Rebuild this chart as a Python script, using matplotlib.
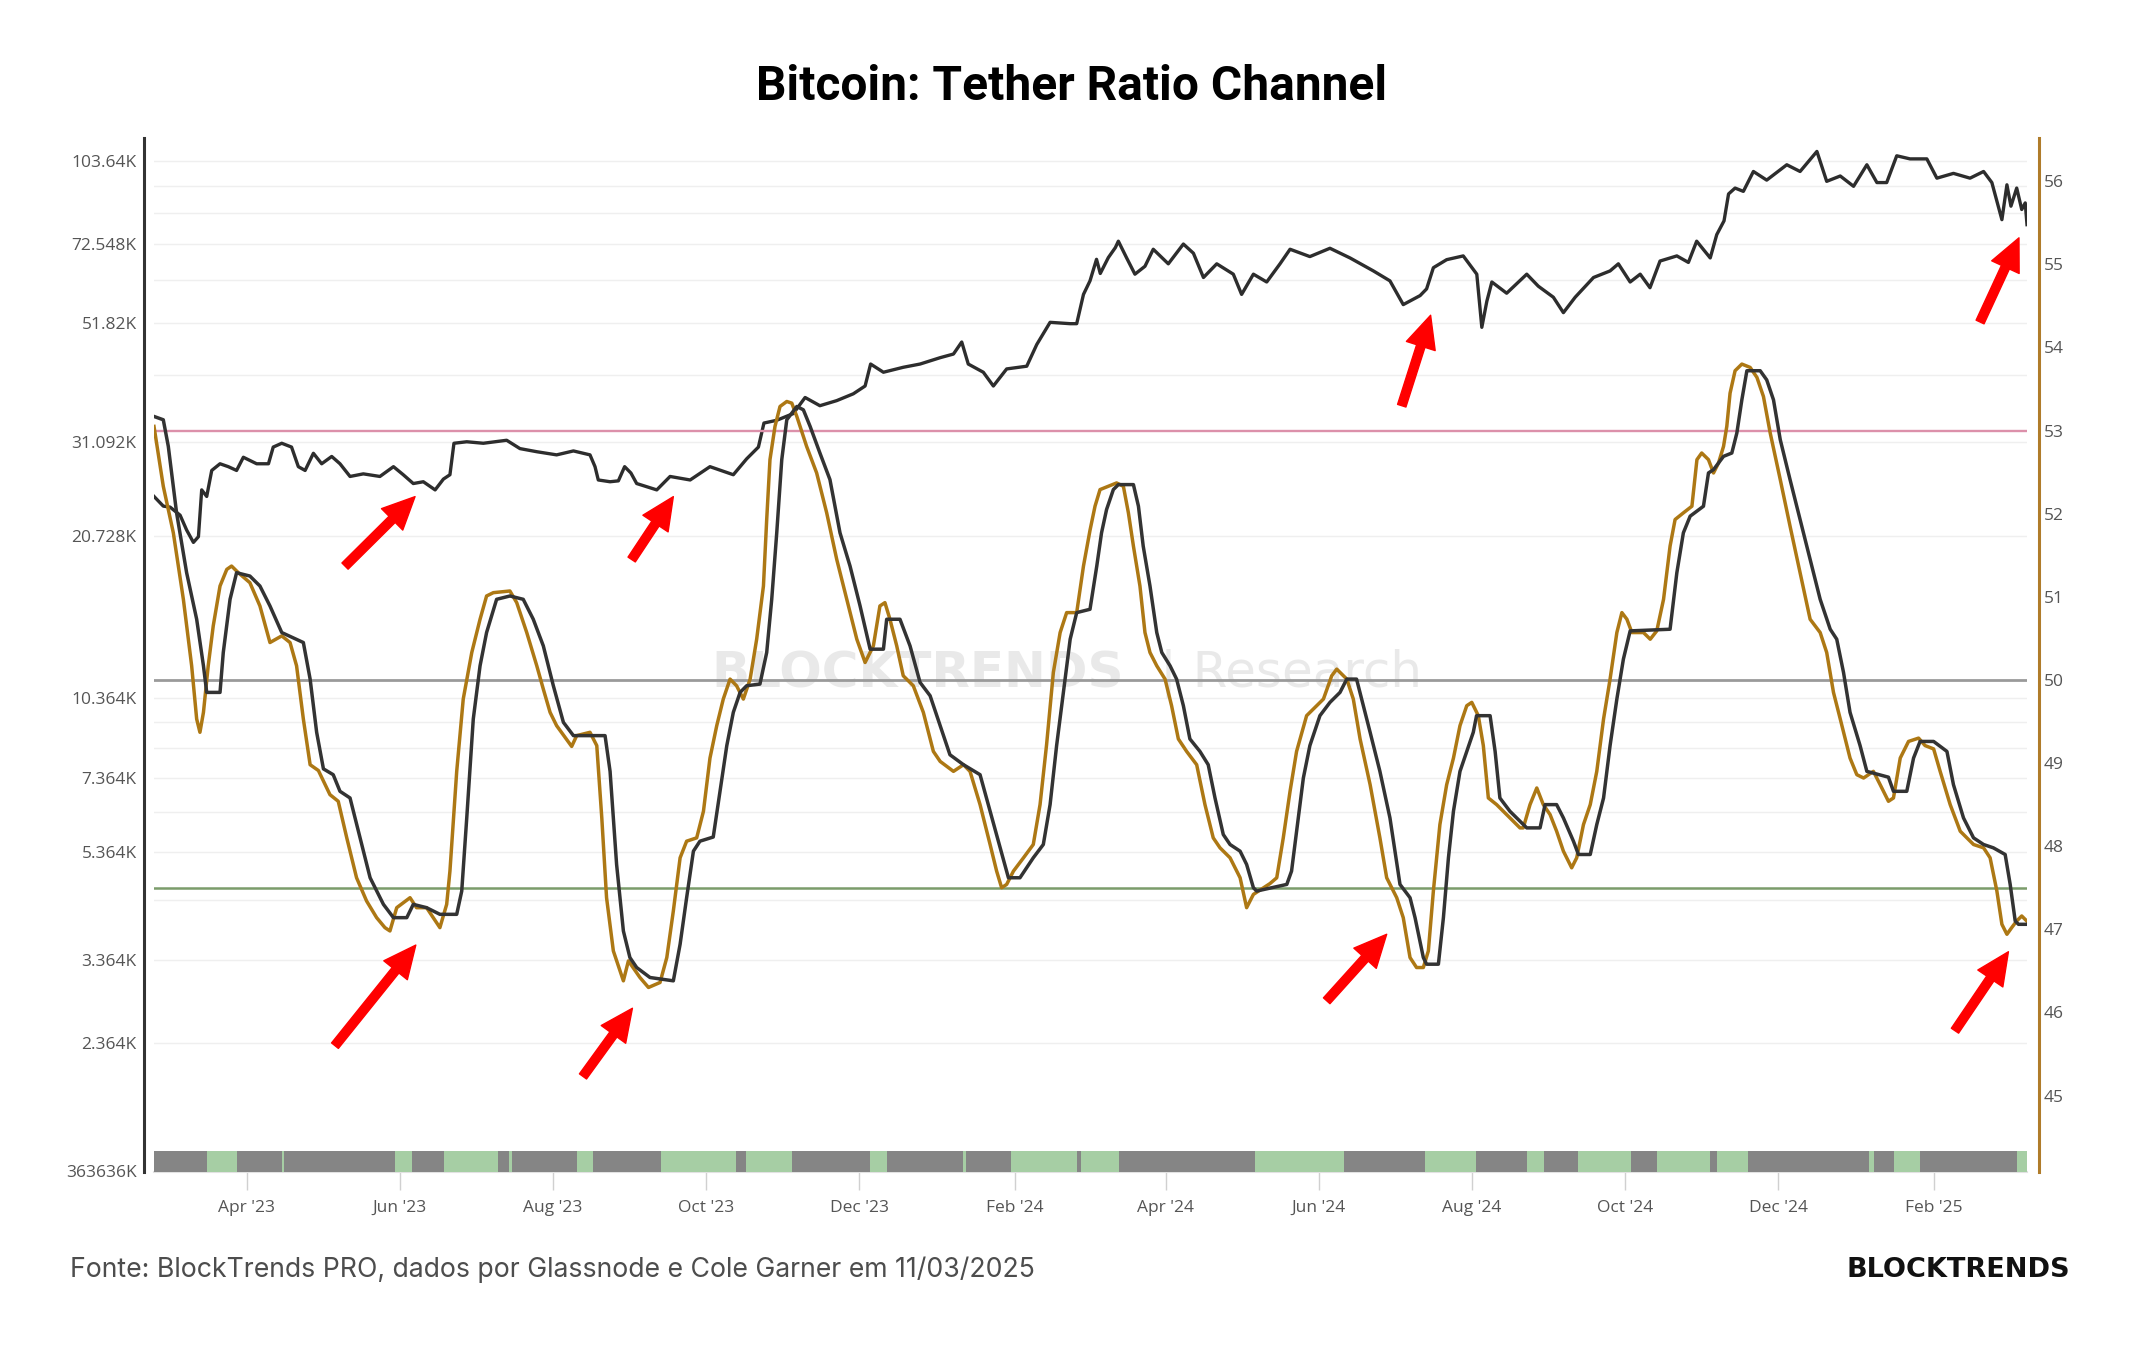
import numpy as np
import pandas as pd
import matplotlib
matplotlib.use("Agg")
import matplotlib.pyplot as plt
import matplotlib.dates as mdates

# ---------------- data ----------------
START = pd.Timestamp("2023-02-23")
END_DAY = 746.2

# BTC price (days since START, price in USD thousands)
btc_day = [0, 3.7, 6.4, 10.4, 13, 15.7, 17.7, 19, 21, 23, 26.3, 29.6, 32.9, 35.6, 40.9, 45.6,
           47.5, 50.9, 54.8, 57.5, 60.2, 63.5, 66.8, 70.8, 74.1, 78.1, 83.4, 90, 95.4, 99.3,
           103.3, 107.3, 112, 115.3, 117.9, 119.5, 124.6, 131.2, 140.5, 145.8, 152.5, 160.4,
           167.1, 173.7, 175.7, 177, 181.7, 185, 187.5, 190, 192.3, 200.3, 205.6, 213.6, 221.5,
           230.8, 236.1, 240.8, 243, 248.1, 254.7, 259.4, 265.3, 272, 278.6, 283.3, 285.5,
           290.6, 298.5, 305.2, 313.2, 318.5, 321.8, 324.4, 330.4, 334.4, 339.7, 347.7, 351.7,
           357, 365, 367.6, 370.3, 372.9, 375.5, 377.0, 380.2, 383.0, 384.2, 387.5, 390.8,
           394.8, 398.1, 404.1, 410.1, 414.1, 418.1, 423.4, 430, 433.3, 438, 443.3, 448.6,
           452.6, 460.5, 468.5, 476.5, 485.8, 492.4, 497.7, 504.4, 507, 509.7, 515, 521.6, 527,
           529, 531, 533, 538.9, 546.9, 551.5, 557.5, 561.5, 566.2, 573.5, 580.1, 583.4, 588.1,
           592.1, 596, 600, 606.7, 611.3, 614.6, 620, 622.6, 625.5, 627.3, 629.9, 633.2, 637.2,
           642.5, 650.5, 655.8, 662.5, 666.4, 671.8, 677.1, 682.4, 686.4, 690.3, 694.3, 699.6,
           706.3, 710.3, 716.9, 723.5, 728.9, 732.2, 734.2, 736.2, 738.2, 739.8, 742.1, 744.1,
           745.5, 746.2]
btc_price_k = [24.6, 23.6, 23.5, 22.7, 21.3, 20.2, 20.7, 25.3, 24.6, 27.5, 28.3, 27.95, 27.5, 29.1,
               28.3, 28.3, 30.4, 30.9, 30.4, 27.95, 27.5, 29.6, 28.3, 29.2, 28.3, 26.8, 27.1, 26.8,
               27.95, 27.0, 26.0, 26.2, 25.3, 26.5, 27.0, 30.9, 31.1, 30.9, 31.3, 30.2, 29.8, 29.4,
               29.9, 29.4, 27.95, 26.4, 26.2, 26.3, 27.95, 27.2, 26.0, 25.3, 26.8, 26.4, 27.95,
               27.0, 28.9, 30.4, 33.7, 34.1, 35.1, 37.6, 36.3, 37.1, 38.2, 39.5, 43.4, 41.9, 42.8,
               43.4, 44.6, 45.3, 47.7, 43.4, 41.9, 39.5, 42.5, 43.0, 47.2, 51.9, 51.6, 51.6, 58.5,
               62.0, 68.0, 64.0, 68.5, 71.5, 73.5, 68.4, 63.8, 66.0, 71.0, 66.7, 72.6, 69.8, 62.9,
               66.7, 63.8, 58.5, 63.8, 61.7, 66.7, 71.0, 68.8, 71.3, 68.4, 64.7, 62.0, 56.0, 58.2,
               59.9, 65.6, 67.9, 69.0, 63.8, 50.8, 56.8, 61.7, 58.8, 63.8, 60.6, 57.8, 54.1, 57.8,
               62.9, 64.7, 66.7, 61.7, 63.8, 60.2, 67.5, 69.0, 67.1, 73.5, 68.4, 75.6, 80.2, 90.0,
               92.3, 91.0, 99.1, 95.5, 102.0, 99.1, 108.0, 95.0, 97.2, 93.0, 102.0, 94.5, 94.5,
               106.0, 104.6, 104.6, 96.3, 98.3, 96.3, 99.1, 94.5, 87.2, 80.6, 93.6, 85.4, 92.3,
               84.2, 86.6, 78.9]

# Ratio channel, fast line (gold)
fast_day = [0, 3.7, 7.7, 11.7, 15, 17, 18.3, 19.7, 21.6, 23.6, 26.3, 29, 30.9, 33.6, 38.2, 42.2,
            46.2, 50.9, 54.2, 56.8, 59.5, 62.2, 65.5, 70.1, 73.4, 76.8, 80.7, 84.7, 88.7, 92, 94,
            96.7, 102, 104.6, 108.6, 113.9, 116.6, 117.9, 120.6, 123.2, 126.6, 129.9, 132.5,
            135.2, 141.8, 144.5, 148.5, 152.5, 155.1, 157.8, 160.4, 166.4, 168.4, 173.7, 176.4,
            178.4, 180.3, 183, 187, 189, 193.6, 197, 201.6, 204.3, 206.9, 209.6, 212.2, 216.2,
            218.9, 221.5, 224.2, 226.8, 229.5, 232.1, 234.8, 237.5, 240.1, 242.8, 244.1, 245.4,
            247.4, 249.4, 252.1, 254.1, 256.1, 260.0, 264.0, 268.0, 272.0, 276.0, 280.0, 283.3,
            286.6, 289.2, 291.2, 293.2, 295.9, 298.5, 302.5, 306.5, 310.5, 313.2, 318.5, 322.5,
            325.1, 329.1, 333.1, 335.7, 337.7, 339.7, 342.4, 346.4, 350.3, 353, 355.6, 358.3,
            361, 363.6, 367.6, 370.3, 372.9, 374.9, 376.9, 383.5, 386.2, 388.2, 390.2, 392.8,
            394.8, 396.8, 399.5, 402.8, 405.4, 408.1, 411.4, 415.4, 418.7, 422.0, 424.7, 428.7,
            432.7, 435.3, 438.0, 444.6, 447.3, 449.9, 452.6, 455.2, 459.2, 465.9, 469.2, 471.2,
            475.2, 477.8, 480.5, 484.5, 488.4, 491.1, 495.1, 497.7, 500.4, 503.0, 505.7, 507.7,
            509.7, 512.3, 515.0, 517.7, 520.3, 523.0, 525.0, 527.6, 529.6, 531.6, 534.9, 538.9,
            544.2, 545.5, 548.2, 550.9, 553.5, 556.2, 558.8, 561.5, 564.8, 566.8, 569.5, 572.2,
            574.8, 577.5, 580.1, 582.8, 584.8, 586.8, 588.8, 593.4, 596.1, 598.7, 601.4, 604.0,
            606.0, 609.3, 612.7, 614.7, 616.6, 619.3, 621.3, 623.3, 625.3, 626.6, 627.9, 629.9,
            632.6, 635.9, 638.6, 641.2, 643.9, 647.9, 651.8, 655.8, 659.8, 663.8, 666.4, 669.1,
            671.8, 675.7, 678.4, 681.1, 685.0, 687.7, 691.0, 693.0, 695.7, 699.0, 703.0, 705.6,
            709.0, 711.6, 715.6, 719.6, 724.9, 728.9, 731.5, 734.2, 736.2, 738.2, 740.1, 742.1,
            744.1, 746.1]
fast_val = [53.05, 52.33, 51.77, 50.97, 50.17, 49.53, 49.37, 49.61, 50.17, 50.65, 51.13, 51.33,
            51.37, 51.29, 51.17, 50.89, 50.45, 50.53, 50.45, 50.17, 49.53, 48.98, 48.91, 48.62,
            48.54, 48.10, 47.62, 47.34, 47.14, 47.02, 46.98, 47.26, 47.38, 47.26, 47.26, 47.02,
            47.30, 47.70, 48.90, 49.77, 50.33, 50.73, 51.01, 51.05, 51.07, 50.93, 50.57, 50.17,
            49.89, 49.61, 49.45, 49.20, 49.33, 49.37, 49.21, 48.34, 47.38, 46.74, 46.38, 46.62,
            46.42, 46.30, 46.36, 46.66, 47.22, 47.86, 48.06, 48.10, 48.42, 49.06, 49.45, 49.77,
            50.01, 49.93, 49.77, 50.01, 50.49, 51.13, 51.93, 52.65, 53.05, 53.29, 53.35, 53.33,
            53.17, 52.81, 52.49, 52.01, 51.45, 50.97, 50.49, 50.21, 50.41, 50.89, 50.93, 50.73,
            50.41, 50.05, 49.93, 49.61, 49.14, 49.02, 48.90, 48.98, 48.90, 48.50, 48.02, 47.70,
            47.50, 47.54, 47.70, 47.86, 48.02, 48.50, 49.22, 50.09, 50.57, 50.81, 50.81, 51.37,
            51.80, 52.09, 52.29, 52.37, 52.33, 52.01, 51.61, 51.13, 50.57, 50.33, 50.17, 50.01,
            49.69, 49.29, 49.14, 48.98, 48.50, 48.10, 47.98, 47.86, 47.62, 47.26, 47.42, 47.55,
            47.62, 48.10, 48.66, 49.14, 49.57, 49.77, 50.05, 50.13, 50.01, 49.77, 49.29, 48.74,
            48.10, 47.62, 47.38, 47.14, 46.66, 46.54, 46.54, 46.74, 47.46, 48.26, 48.74, 49.06,
            49.45, 49.69, 49.73, 49.57, 49.21, 48.58, 48.50, 48.38, 48.22, 48.22, 48.50, 48.70,
            48.50, 48.38, 48.18, 47.94, 47.74, 47.86, 48.26, 48.50, 48.90, 49.53, 50.01, 50.57,
            50.81, 50.73, 50.57, 50.57, 50.49, 50.59, 50.97, 51.61, 51.93, 52.01, 52.09, 52.65,
            52.73, 52.65, 52.49, 52.61, 52.81, 53.05, 53.45, 53.72, 53.80, 53.76, 53.64, 53.41,
            52.97, 52.41, 51.85, 51.29, 50.73, 50.57, 50.33, 49.85, 49.53, 49.06, 48.86, 48.82,
            48.90, 48.74, 48.54, 48.58, 49.06, 49.26, 49.30, 49.21, 49.17, 48.90, 48.50, 48.18,
            48.02, 47.98, 47.86, 47.46, 47.06, 46.94, 47.02, 47.10, 47.16, 47.10]

# Ratio channel, slow line (dark)
slow_day = [0, 3.7, 5.7, 9, 13, 17, 19.7, 21, 26.3, 27.6, 30.3, 32.9, 38.2, 42.2, 46.2, 50.9,
            59.5, 62.2, 64.8, 67.5, 71.4, 74.1, 78.1, 82.1, 86.1, 91.4, 95.4, 100.7, 103.3,
            108.6, 113.9, 120.6, 122.6, 124.6, 127.2, 129.9, 132.5, 136.5, 141.8, 147.1, 151.1,
            155.1, 159.1, 163.1, 167.1, 179.7, 181.7, 184.3, 187, 189.6, 192.3, 197.6, 206.9,
            209.6, 212.2, 214.9, 217.5, 222.8, 225.5, 228.2, 230.8, 233.5, 236.1, 241.4, 244.1,
            246.1, 248.1, 250.1, 252.1, 256.1, 258.7, 261.4, 265.3, 269.3, 273.3, 277.3, 281.3,
            285.3, 290.6, 291.9, 297.2, 301.2, 305.2, 309.2, 313.2, 317.1, 322.5, 329.1, 333.1,
            337.1, 340.4, 345.0, 350.3, 354.3, 357, 359.6, 362.3, 365, 367.6, 372.9, 375.6,
            377.5, 379.5, 382.2, 384.2, 390.2, 392.2, 394.1, 396.8, 399.5, 401.5, 404.8, 407.4,
            410.1, 412.7, 416.7, 420.0, 422.7, 426.0, 428.7, 432.7, 435.3, 438.0, 439.3, 451.3,
            453.2, 455.2, 457.9, 460.5, 464.5, 468.5, 472.5, 475.2, 479.1, 481.8, 484.5, 488.4,
            492.4, 496.4, 500.4, 502.4, 505.7, 507.0, 511.7, 513.7, 515.7, 517.7, 520.3, 523.0,
            525.6, 526.9, 532.3, 534.3, 536.2, 540.2, 544.2, 546.9, 552.2, 554.2, 558.8, 561.5,
            565.5, 567.5, 572.2, 574.8, 577.5, 580.1, 582.8, 585.4, 588.1, 604.0, 606.7, 609.3,
            612.0, 617.3, 619.3, 621.3, 625.3, 628.6, 630.6, 632.6, 634.6, 639.9, 642.5, 645.2,
            647.9, 651.8, 655.8, 659.8, 663.8, 667.8, 670.4, 673.1, 675.7, 679.7, 682.4, 691.0,
            693.0, 698.3, 701.0, 703.6, 709.0, 714.3, 716.9, 720.9, 724.9, 728.9, 732.8, 737.5,
            739.5, 741.5, 742.8, 746.1]
slow_val = [53.17, 53.13, 52.81, 52.01, 51.29, 50.73, 50.17, 49.85, 49.85, 50.33, 50.97, 51.29,
            51.25, 51.13, 50.89, 50.57, 50.45, 50.01, 49.37, 48.93, 48.86, 48.66, 48.58, 48.10,
            47.62, 47.30, 47.14, 47.14, 47.30, 47.26, 47.18, 47.18, 47.46, 48.34, 49.53, 50.17,
            50.57, 50.97, 51.01, 50.97, 50.73, 50.41, 49.93, 49.49, 49.33, 49.33, 48.90, 47.78,
            46.98, 46.66, 46.54, 46.42, 46.38, 46.82, 47.38, 47.94, 48.06, 48.11, 48.66, 49.21,
            49.61, 49.85, 49.93, 49.95, 50.33, 50.97, 51.77, 52.65, 53.13, 53.29, 53.25, 53.05,
            52.73, 52.41, 51.77, 51.37, 50.89, 50.37, 50.37, 50.73, 50.73, 50.41, 49.97, 49.81,
            49.45, 49.10, 48.98, 48.86, 48.42, 47.98, 47.62, 47.62, 47.86, 48.02, 48.50, 49.21,
            49.85, 50.49, 50.81, 50.85, 51.37, 51.77, 52.05, 52.29, 52.35, 52.35, 52.09, 51.61,
            51.13, 50.57, 50.33, 50.17, 50.01, 49.69, 49.29, 49.14, 48.98, 48.58, 48.14, 48.02,
            47.94, 47.78, 47.50, 47.46, 47.54, 47.70, 48.18, 48.82, 49.21, 49.57, 49.73, 49.85,
            50.01, 50.01, 49.69, 49.37, 48.90, 48.34, 47.54, 47.38, 47.14, 46.66, 46.58, 46.58,
            47.14, 47.86, 48.42, 48.90, 49.14, 49.37, 49.57, 49.57, 49.14, 48.58, 48.42, 48.30,
            48.22, 48.22, 48.50, 48.50, 48.34, 48.06, 47.90, 47.90, 48.26, 48.58, 49.21, 49.77,
            50.25, 50.59, 50.61, 51.29, 51.77, 51.97, 52.09, 52.49, 52.53, 52.69, 52.73, 52.97,
            53.37, 53.72, 53.72, 53.61, 53.37, 52.89, 52.41, 51.93, 51.45, 50.97, 50.61, 50.49,
            50.09, 49.61, 49.21, 48.90, 48.83, 48.66, 48.66, 49.06, 49.26, 49.26, 49.14, 48.74,
            48.34, 48.10, 48.02, 47.98, 47.90, 47.54, 47.10, 47.06, 47.06]

# Channel levels
level_top = 53.0
level_mid = 50.0
level_low = 47.5

# Bottom regime strip: segment start/end (days since START) and state (1 = green, 0 = grey)
strip_start = [0, 21.1, 33.1, 50.8, 51.8, 96, 102.9, 115.6, 137.2, 141.3, 142.5, 168.5, 174.8,
               202, 232, 235.8, 254.3, 285.3, 292.2, 322.2, 323.5, 341.5, 367.9, 369.2, 384.4,
               438.7, 474, 506.3, 526.8, 547.2, 553.8, 567.3, 588.3, 598.9, 619.9, 622.8, 635,
               683.3, 685.1, 693.4, 703.7, 742.2]
strip_end = strip_start[1:] + [746.2]
strip_state = [0, 1, 0, 1, 0, 1, 0, 1, 0, 1, 0, 1, 0, 1, 0, 1, 0, 1, 0, 1, 0, 1, 0, 1, 0,
               1, 0, 1, 0, 1, 0, 1, 0, 1, 0, 1, 0, 1, 0, 1, 0, 1]

# Axis ticks
left_tick_values = [103640, 93276, 82912, 72548, 62184, 51820, 41456, 31092, 20728, 10364,
                    9364, 8364, 7364, 6364, 5364, 4364, 3364, 2364, 1364]
left_tick_labels = ["103.64K", "", "", "72.548K", "", "51.82K", "", "31.092K", "20.728K",
                    "10.364K", "", "", "7.364K", "", "5.364K", "", "3.364K", "2.364K", "363636K"]
right_tick_values = [45, 46, 47, 48, 49, 50, 51, 52, 53, 54, 55, 56]
x_tick_dates = ["2023-04-01", "2023-06-01", "2023-08-01", "2023-10-01", "2023-12-01",
                "2024-02-01", "2024-04-01", "2024-06-01", "2024-08-01", "2024-10-01",
                "2024-12-01", "2025-02-01"]
x_tick_labels = ["Apr '23", "Jun '23", "Aug '23", "Oct '23", "Dec '23", "Feb '24", "Apr '24",
                 "Jun '24", "Aug '24", "Oct '24", "Dec '24", "Feb '25"]

# Red annotation arrows: (tail_day, tail_value) -> (head_day, head_value)
price_arrows = [((76.1, 18250), (104.0, 24580)),
                ((190.3, 18770), (206.9, 24580)),
                ((497.1, 36300), (508.6, 53500)),
                ((727.5, 51970), (743.0, 74560))]
ratio_arrows = [((72.1, 45.60), (104.3, 46.81)),
                ((170.9, 45.23), (190.6, 46.05)),
                ((467.2, 46.14), (491.1, 46.94)),
                ((717.5, 45.78), (738.8, 46.73))]

TITLE = "Bitcoin: Tether Ratio Channel"
SOURCE = "Fonte: BlockTrends PRO, dados por Glassnode e Cole Garner em 11/03/2025"
BRAND = "BLOCKTRENDS"

# ---------------- helpers ----------------
def to_dates(days):
    return START + pd.to_timedelta(np.asarray(days, dtype=float), unit="D")

def to_num(day):
    return mdates.date2num((START + pd.Timedelta(days=float(day))).to_pydatetime())

# ---------------- figure ----------------
plt.rcParams["font.family"] = ["Open Sans", "DejaVu Sans"]
W, H = 2144, 1350
fig = plt.figure(figsize=(W / 100, H / 100), dpi=100)
fig.patch.set_facecolor("white")

ax_l, ax_r, ax_t, ax_b = 154, 2027, 138, 1172
ax = fig.add_axes([ax_l / W, 1 - ax_b / H, (ax_r - ax_l) / W, (ax_b - ax_t) / H])
ax2 = ax.twinx()

# left (price, log) axis
ax.set_yscale("log")
ax.set_ylim(1358, 114400)
ax.set_xlim(to_num(0), to_num(END_DAY))
ax.yaxis.set_major_locator(matplotlib.ticker.FixedLocator(left_tick_values))
ax.yaxis.set_major_formatter(matplotlib.ticker.FixedFormatter(left_tick_labels))
ax.yaxis.set_minor_locator(matplotlib.ticker.NullLocator())
ax.grid(axis="y", color="#efefef", linewidth=1.0, zorder=0)
ax.set_axisbelow(True)
ax.tick_params(axis="y", which="both", length=0, pad=5, labelsize=12.5, labelcolor="#555555")

ax.set_xticks([to_num((pd.Timestamp(d) - START).days) for d in x_tick_dates])
ax.set_xticklabels(x_tick_labels)
ax.tick_params(axis="x", length=13, width=1, color="#d0d0d0", pad=7, labelsize=12.5,
               labelcolor="#555555")

for s in ["top", "right"]:
    ax.spines[s].set_visible(False)
ax.spines["left"].set_position(("outward", 7.5))
ax.spines["left"].set_color("#333333")
ax.spines["left"].set_linewidth(2.2)
ax.spines["bottom"].set_color("#e2e2e2")
ax.spines["bottom"].set_linewidth(1.5)

# right (ratio) axis
ax2.set_ylim(44.08, 56.52)
ax2.set_yticks(right_tick_values)
ax2.tick_params(axis="y", length=0, pad=3, labelsize=12.5, labelcolor="#555555")
for s in ["top", "left", "bottom"]:
    ax2.spines[s].set_visible(False)
ax2.spines["right"].set_position(("outward", 8.8))
ax2.spines["right"].set_color("#b07c2a")
ax2.spines["right"].set_linewidth(2.2)

# watermark
ax.text(1124 / W, 1 - 674 / H, "BLOCKTRENDS", transform=fig.transFigure, ha="right",
        va="center", fontsize=36, fontweight="bold", color="#e9e9e9",
        family="DejaVu Sans", zorder=0.6)
ax.text(1160 / W, 1 - 674 / H, "| Research", transform=fig.transFigure, ha="left",
        va="center", fontsize=36, color="#e9e9e9", family="DejaVu Sans", zorder=0.6)

# price line
ax.plot(to_dates(btc_day), np.asarray(btc_price_k) * 1000, color="#2d2d2d", lw=2.4,
        zorder=3, solid_joinstyle="round")

# channel levels
ax2.axhline(level_top, color="#dc90aa", lw=1.7, zorder=1)
ax2.axhline(level_mid, color="#9a9a9a", lw=2.0, zorder=1)
ax2.axhline(level_low, color="#7b9c6b", lw=1.8, zorder=1)

# regime strip
strip_colors = {0: "#858585", 1: "#a6cea4"}
for s0, s1, st in zip(strip_start, strip_end, strip_state):
    ax2.axvspan(to_num(s0), to_num(s1), ymin=0, ymax=0.0205, color=strip_colors[st],
                lw=0, zorder=1.5)

# ratio lines
ax2.plot(to_dates(fast_day), fast_val, color="#ad7814", lw=2.5, zorder=3)
ax2.plot(to_dates(slow_day), slow_val, color="#333333", lw=2.5, zorder=3.2)

# arrows
arrow_kw = dict(arrowstyle="simple,head_length=1.55,head_width=1.45,tail_width=0.42",
                color="#ff0000", mutation_scale=15, shrinkA=0, shrinkB=0)
for (t, h) in price_arrows:
    ax.annotate("", xy=(to_num(h[0]), h[1]), xytext=(to_num(t[0]), t[1]),
                arrowprops=arrow_kw, zorder=5)
for (t, h) in ratio_arrows:
    ax2.annotate("", xy=(to_num(h[0]), h[1]), xytext=(to_num(t[0]), t[1]),
                 arrowprops=arrow_kw, zorder=5)

# title & footer
fig.text(0.5, 1 - 87.5 / H, TITLE, ha="center", va="center", fontsize=34.5,
         fontweight="bold", family=["Roboto", "DejaVu Sans"], color="#000000")
fig.text(70 / W, 1 - 1270 / H, SOURCE, ha="left", va="center", fontsize=19.2,
         color="#4d4d4d", family=["Inter", "DejaVu Sans"])
fig.text(2070 / W, 1 - 1270 / H, BRAND, ha="right", va="center", fontsize=19.5,
         fontweight="bold", family="DejaVu Sans", color="#111111")

fig.savefig("out.png", dpi=100, facecolor="white")
